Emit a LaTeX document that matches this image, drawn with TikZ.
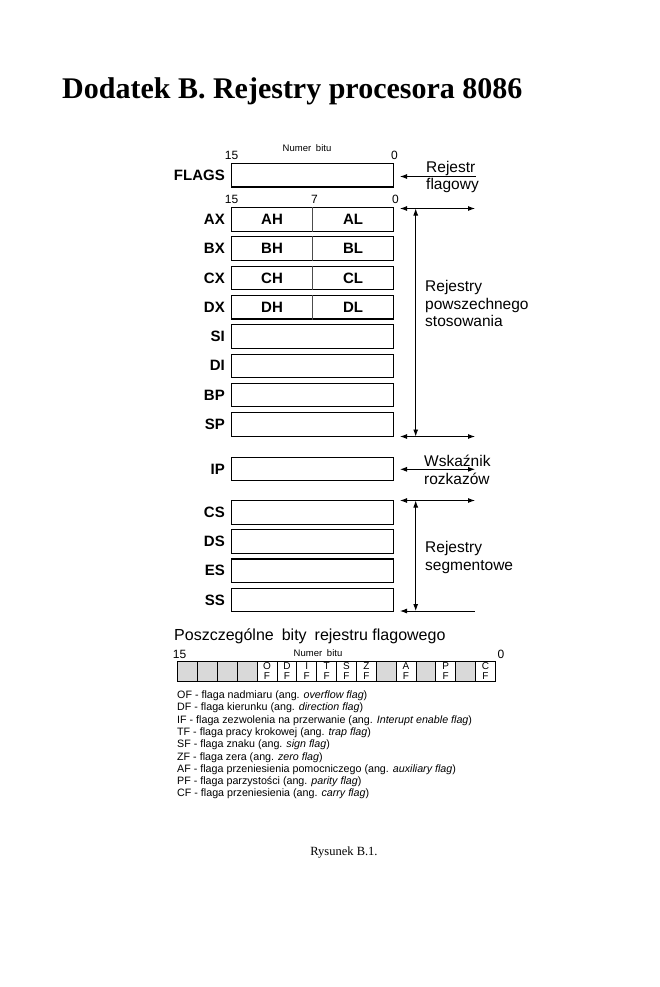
\documentclass[tikz,border=0pt]{standalone}
\usepackage{fontspec}
\setmainfont{Liberation Serif}
\setsansfont{Liberation Sans}
\usetikzlibrary{arrows.meta}
\begin{document}
\begin{tikzpicture}[x=1pt,y=-1pt,
  reg/.style={draw, line width=1.1pt, minimum width=162pt, minimum height=23.5pt, inner sep=0pt, anchor=north west},
  rlab/.style={font=\sffamily\bfseries\fontsize{15}{15}\selectfont, anchor=east, inner sep=0pt},
  half/.style={font=\sffamily\bfseries\fontsize{15}{15}\selectfont, inner sep=0pt},
  divl/.style={line width=0.8pt, black!70},
  num/.style={font=\sffamily\fontsize{12}{12}\selectfont, inner sep=0pt},
  small/.style={font=\sffamily\fontsize{9.5}{9.5}\selectfont, inner sep=0pt},
  side/.style={font=\sffamily\fontsize{15.5}{15.5}\selectfont, anchor=base west, inner sep=0pt},
  arr/.style={line width=0.9pt, {Latex[length=7pt,width=5pt]}-{Latex[length=7pt,width=5pt]}},
  larr/.style={line width=0.9pt, {Latex[length=7pt,width=5pt]}-},
  cell/.style={draw, line width=0.7pt, minimum width=19.86pt, minimum height=20pt, inner sep=0pt, anchor=north west},
  gcell/.style={cell, fill=gray!30},
  flagl/.style={font=\sffamily\fontsize{10}{10}\selectfont, align=center, inner sep=0pt},
  legend/.style={font=\sffamily\fontsize{10.7}{10.7}\selectfont, anchor=base west, inner sep=0pt}
]
\useasboundingbox (0,0) rectangle (660,987);

% title
\node[font=\bfseries\fontsize{30}{30}\selectfont, anchor=base west, inner sep=0pt] (title) at (62,99) {Dodatek B. Rejestry procesora 8086};

% FLAGS
\node[small] (nb1) at (307,148) {Numer\hspace{0.5em}bitu};
\node[num] (f15) at (231.5,155) {15};
\node[num] (f0) at (394.5,155) {0};
\node[reg] (rFLAGS) at (231,163) {};
\node[rlab] (lFLAGS) at ([xshift=-6pt]rFLAGS.west) {FLAGS};
\node[side] (rej1) at (426,172.5) {Rejestr};
\node[side] (flg1) at (426,189.5) {flagowy};
\coordinate (fa1) at (400,176.5);
\coordinate (fa2) at (476,176.5);
\draw[larr] (fa1) -- (fa2);

% bit numbers
\node[num] (g15) at (231.5,199.5) {15};
\node[num] (g7) at (314.5,199.5) {7};
\node[num] (g0) at (395.5,199.5) {0};

% general registers
\node[reg] (rAX) at (231,207) {};
\node[reg] (rBX) at (231,236.3) {};
\node[reg] (rCX) at (231,265.6) {};
\node[reg] (rDX) at (231,294.9) {};
\node[reg] (rSI) at (231,324.2) {};
\node[reg] (rDI) at (231,353.5) {};
\node[reg] (rBP) at (231,382.8) {};
\node[reg] (rSP) at (231,412.1) {};
\node[rlab] (lAX) at ([xshift=-6pt]rAX.west) {AX};
\node[rlab] (lBX) at ([xshift=-6pt]rBX.west) {BX};
\node[rlab] (lCX) at ([xshift=-6pt]rCX.west) {CX};
\node[rlab] (lDX) at ([xshift=-6pt]rDX.west) {DX};
\node[rlab] (lSI) at ([xshift=-6pt]rSI.west) {SI};
\node[rlab] (lDI) at ([xshift=-6pt]rDI.west) {DI};
\node[rlab] (lBP) at ([xshift=-6pt]rBP.west) {BP};
\node[rlab] (lSP) at ([xshift=-6pt]rSP.west) {SP};
\draw[divl] (rAX.north) -- (rAX.south);
\draw[divl] (rBX.north) -- (rBX.south);
\draw[divl] (rCX.north) -- (rCX.south);
\draw[divl] (rDX.north) -- (rDX.south);
\node[half] (hAH) at ([xshift=-40.5pt]rAX.center) {AH};
\node[half] (hAL) at ([xshift=40.5pt]rAX.center) {AL};
\node[half] (hBH) at ([xshift=-40.5pt]rBX.center) {BH};
\node[half] (hBL) at ([xshift=40.5pt]rBX.center) {BL};
\node[half] (hCH) at ([xshift=-40.5pt]rCX.center) {CH};
\node[half] (hCL) at ([xshift=40.5pt]rCX.center) {CL};
\node[half] (hDH) at ([xshift=-40.5pt]rDX.center) {DH};
\node[half] (hDL) at ([xshift=40.5pt]rDX.center) {DL};

\coordinate (gpa) at (400,208.5);
\coordinate (gpb) at (475,208.5);
\coordinate (gpc) at (400,436.5);
\coordinate (gpd) at (475,436.5);
\coordinate (gpt) at (415.7,208.5);
\coordinate (gpu) at (415.7,436.5);
\draw[arr] (gpa) -- (gpb);
\draw[arr] (gpc) -- (gpd);
\draw[arr] (gpt) -- (gpu);
\node[side] (gp1) at (425,291.7) {Rejestry};
\node[side] (gp2) at (425,309.3) {powszechnego};
\node[side] (gp3) at (425,326.8) {stosowania};

% IP
\node[reg] (rIP) at (231,456.8) {};
\node[rlab] (lIP) at ([xshift=-6pt]rIP.west) {IP};
\coordinate (ipa) at (400,469.3);
\coordinate (ipb) at (475,469.3);
\draw[arr] (ipa) -- (ipb);
\node[side] (ip1) at (424,466) {Wskaźnik};
\node[side] (ip2) at (424,484) {rozkazów};

% segment registers
\node[reg] (rCS) at (231,500) {};
\node[reg] (rDS) at (231,529.2) {};
\node[reg] (rES) at (231,558.4) {};
\node[reg] (rSS) at (231,587.6) {};
\node[rlab] (lCS) at ([xshift=-6pt]rCS.west) {CS};
\node[rlab] (lDS) at ([xshift=-6pt]rDS.west) {DS};
\node[rlab] (lES) at ([xshift=-6pt]rES.west) {ES};
\node[rlab] (lSS) at ([xshift=-6pt]rSS.west) {SS};
\coordinate (sga) at (400,500.5);
\coordinate (sgb) at (475,500.5);
\coordinate (sgc) at (400,611);
\coordinate (sgd) at (475,611);
\coordinate (sgt) at (415.7,500.5);
\coordinate (sgu) at (415.7,611);
\draw[arr] (sga) -- (sgb);
\draw[larr] (sgc) -- (sgd);
\draw[arr] (sgt) -- (sgu);
\node[side] (sg1) at (425,552.3) {Rejestry};
\node[side] (sg2) at (425,570) {segmentowe};

% flag bits
\node[font=\sffamily\fontsize{16}{16}\selectfont, anchor=base west, inner sep=0pt] (pb) at (174,640) {Poszczególne\hspace{0.5em}bity\hspace{0.5em}rejestru flagowego};
\node[num] (b15) at (179.5,654) {15};
\node[num] (b0) at (501,654) {0};
\node[small] (nb2) at (318,653.5) {Numer\hspace{0.5em}bitu};
\node[gcell] (c0) at (177.3,660.7) {};
\node[gcell] (c1) at (197.16,660.7) {};
\node[gcell] (c2) at (217.02,660.7) {};
\node[gcell] (c3) at (236.88,660.7) {};
\node[cell] (c4) at (256.74,660.7) {};
\node[cell] (c5) at (276.6,660.7) {};
\node[cell] (c6) at (296.46,660.7) {};
\node[cell] (c7) at (316.32,660.7) {};
\node[cell] (c8) at (336.18,660.7) {};
\node[cell] (c9) at (356.04,660.7) {};
\node[gcell] (c10) at (375.9,660.7) {};
\node[cell] (c11) at (395.76,660.7) {};
\node[gcell] (c12) at (415.62,660.7) {};
\node[cell] (c13) at (435.48,660.7) {};
\node[gcell] (c14) at (455.34,660.7) {};
\node[cell] (c15) at (475.2,660.7) {};
\node[flagl] (t4) at (c4.center) {O\\F};
\node[flagl] (t5) at (c5.center) {D\\F};
\node[flagl] (t6) at (c6.center) {I\\F};
\node[flagl] (t7) at (c7.center) {T\\F};
\node[flagl] (t8) at (c8.center) {S\\F};
\node[flagl] (t9) at (c9.center) {Z\\F};
\node[flagl] (t11) at (c11.center) {A\\F};
\node[flagl] (t13) at (c13.center) {P\\F};
\node[flagl] (t15) at (c15.center) {C\\F};

% legend
\node[legend] (l1) at (177,698.5) {OF - flaga nadmiaru (ang. \textit{overflow flag})};
\node[legend] (l2) at (177,710.8) {DF - flaga kierunku (ang. \textit{direction flag})};
\node[legend] (l3) at (177,723.1) {IF - flaga zezwolenia na przerwanie (ang. \textit{Interupt enable flag})};
\node[legend] (l4) at (177,735.4) {TF - flaga pracy krokowej (ang. \textit{trap flag})};
\node[legend] (l5) at (177,747.7) {SF - flaga znaku (ang. \textit{sign flag})};
\node[legend] (l6) at (177,760) {ZF - flaga zera (ang. \textit{zero flag})};
\node[legend] (l7) at (177,772.3) {AF - flaga przeniesienia pomocniczego (ang. \textit{auxiliary flag})};
\node[legend] (l8) at (177,784.6) {PF - flaga parzystości (ang. \textit{parity flag})};
\node[legend] (l9) at (177,796.9) {CF - flaga przeniesienia (ang. \textit{carry flag})};

% caption
\node[font=\fontsize{12.5}{12.5}\selectfont, anchor=base, inner sep=0pt] (cap) at (344,855) {Rysunek B.1.};
\end{tikzpicture}
\end{document}
